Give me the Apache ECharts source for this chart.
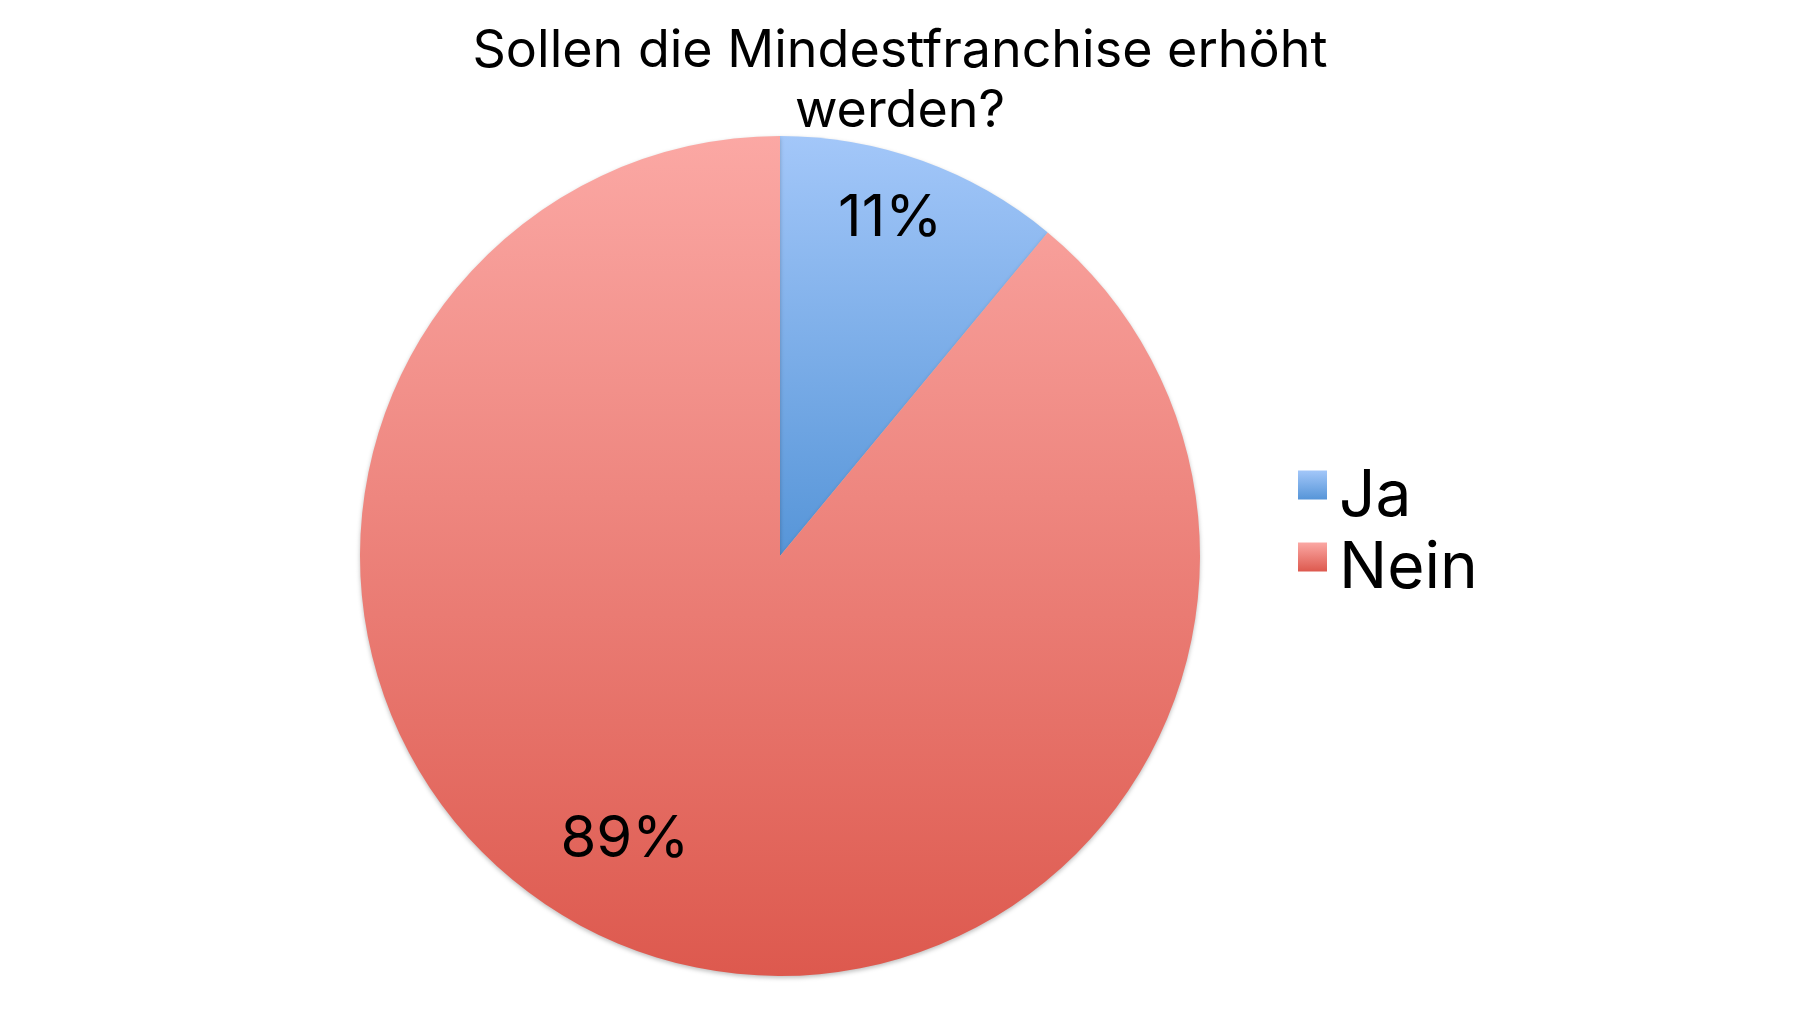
<!DOCTYPE html>
<html>
<head>
<meta charset="utf-8">
<title>Sollen die Mindestfranchise erhöht werden?</title>
<script src="https://cdn.jsdelivr.net/npm/echarts@6/dist/echarts.min.js"></script>
<style>
    html, body {margin: 0; padding: 0; background: #fff;}
    #main {width: 1800px; height: 1012px;}
</style>
</head>
<body>
<div id="main"></div>
<script>
    // data
    const titleText = 'Sollen die Mindestfranchise erhöht\nwerden?';
    const categories = ['Ja', 'Nein'];
    const values = [11, 89];

    // look: vertical gradient per slice, top -> bottom
    const sliceColors = [
        ['#a3c7f9', '#5695d8'],
        ['#fba8a4', '#dd594e']
    ];
    // nudges so the labels sit where the picture has them
    const labelOffsets = [[38, -137], [-83, 83]];

    const font = 'Inter, Lato, sans-serif';

    const gradient = (c) => new echarts.graphic.LinearGradient(0, 0, 0, 1, [
        {offset: 0, color: c[0]},
        {offset: 1, color: c[1]}
    ]);

    const myChart = echarts.init(document.getElementById('main'));
    myChart.setOption({
        animation: false,
        backgroundColor: '#fff',
        title: {
            text: titleText,
            left: 'center',
            top: 16,
            textStyle: {
                fontFamily: font,
                fontSize: 52,
                fontWeight: 'normal',
                color: '#000',
                lineHeight: 60
            }
        },
        legend: {
            orient: 'vertical',
            left: 1293,
            top: 436,
            icon: 'rect',
            itemWidth: 29,
            itemHeight: 29,
            itemGap: -16,
            selectedMode: false,
            data: categories,
            // text sits a little lower than the swatch in the picture
            formatter: name => '{t|' + name + '}',
            textStyle: {
                fontFamily: font,
                fontSize: 64,
                color: '#000',
                rich: {
                    t: {
                        fontFamily: font,
                        fontSize: 64,
                        color: '#000',
                        lineHeight: 49,
                        padding: [24, 0, 0, 7]
                    }
                }
            }
        },
        series: [{
            type: 'pie',
            center: [780, 556],
            radius: 420,
            startAngle: 90,
            clockwise: true,
            silent: true,
            itemStyle: {
                shadowBlur: 4,
                shadowOffsetY: 2,
                shadowColor: 'rgba(0,0,0,0.25)'
            },
            label: {
                show: true,
                position: 'inside',
                formatter: '{c}%',
                fontFamily: font,
                fontSize: 58,
                color: '#000'
            },
            labelLine: {show: false},
            data: categories.map((name, i) => ({
                name: name,
                value: values[i],
                itemStyle: {color: gradient(sliceColors[i])},
                label: {offset: labelOffsets[i]}
            }))
        }]
    });
</script>
</body>
</html>
